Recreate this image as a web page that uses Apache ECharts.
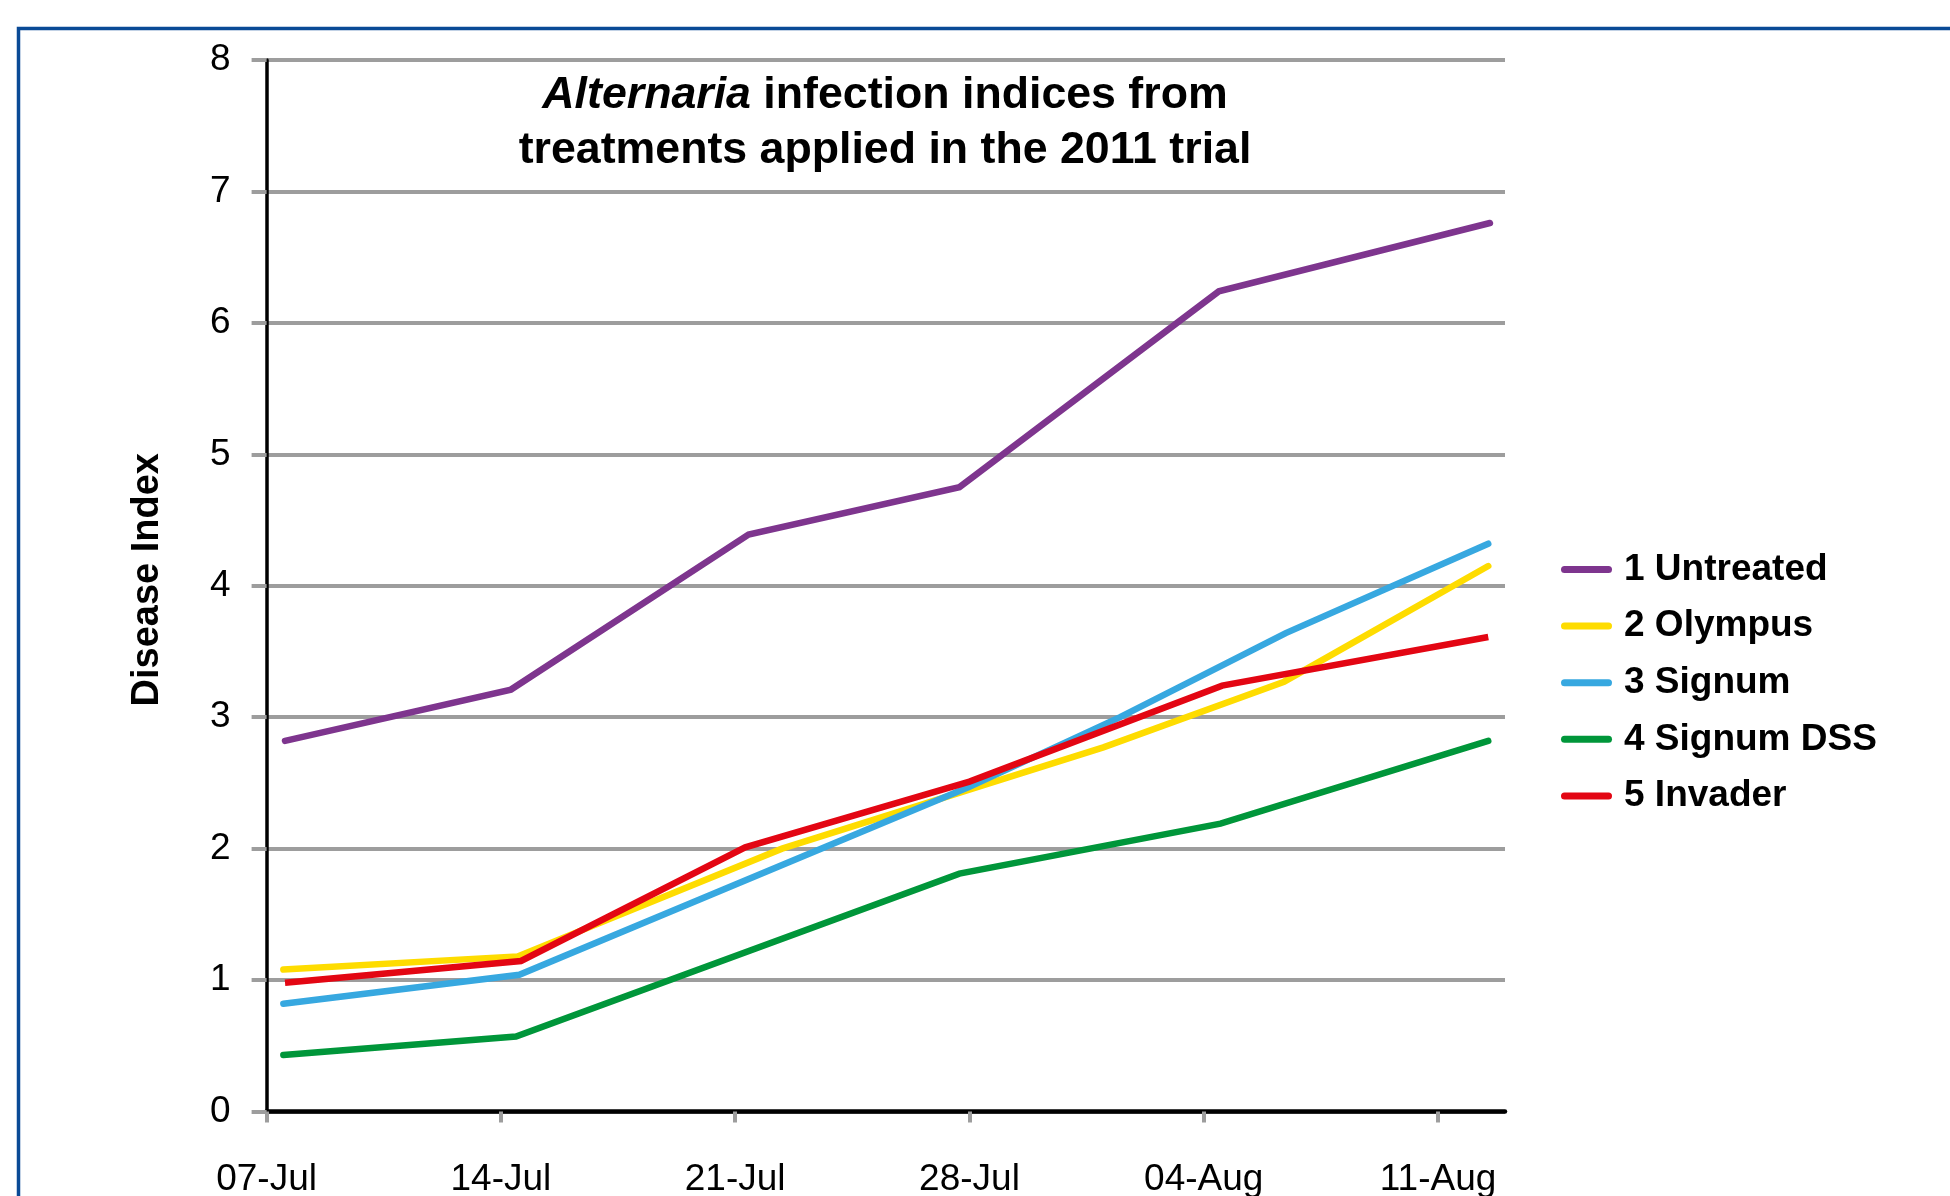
<!DOCTYPE html>
<html>
<head>
<meta charset="utf-8">
<script src="https://cdn.jsdelivr.net/npm/echarts@6/dist/echarts.min.js"></script>
<style>
html,body{margin:0;padding:0;background:#fff;}
#chart{width:1950px;height:1196px;}
</style>
</head>
<body>
<div id="chart"></div>
<script>
// ---- data ----
const tickLabels = ['07-Jul', '14-Jul', '21-Jul', '28-Jul', '04-Aug', '11-Aug'];
const tickDays = [0, 7, 14, 21, 28, 35];
const seriesNames = ['1 Untreated', '2 Olympus', '3 Signum', '4 Signum DSS', '5 Invader'];
const yTicks = [0, 1, 2, 3, 4, 5, 6, 7, 8];

// days after 07-Jul, disease index
const untreatedDays   = [0.55, 7.3, 14.4, 20.7, 28.45, 36.55];
const untreatedValues = [2.82, 3.21, 4.39, 4.75, 6.24, 6.76];

const olympusDays   = [0.5, 7.5, 15.4, 25.0, 30.4, 36.5];
const olympusValues = [1.08, 1.18, 2.00, 2.77, 3.27, 4.15];

const signumDays   = [0.5, 7.55, 21.0, 25.5, 30.45, 36.5];
const signumValues = [0.82, 1.04, 2.47, 3.00, 3.64, 4.32];

const signumDssDays   = [0.5, 7.45, 20.7, 28.5, 36.5];
const signumDssValues = [0.43, 0.57, 1.81, 2.19, 2.82];

const invaderDays   = [0.55, 7.6, 14.3, 21.0, 28.55, 36.5];
const invaderValues = [0.98, 1.145, 2.01, 2.51, 3.24, 3.61];

const colors = ['#7e358e', '#fedc00', '#37a8e0', '#00963a', '#e30613'];

function pairs(xs, ys) { return xs.map((x, i) => [x, ys[i]]); }
const seriesData = [
  pairs(untreatedDays, untreatedValues),
  pairs(olympusDays, olympusValues),
  pairs(signumDays, signumValues),
  pairs(signumDssDays, signumDssValues),
  pairs(invaderDays, invaderValues)
];

const FONT = '"Liberation Sans", Arial, Helvetica, sans-serif';
const capsule = 'path://M3.5,0 L47.5,0 A3.5,3.5 0 0 1 47.5,7 L3.5,7 A3.5,3.5 0 0 1 3.5,0 Z';

const chart = echarts.init(document.getElementById('chart'), null, {renderer: 'canvas'});
chart.setOption({
  backgroundColor: '#ffffff',
  animation: false,
  textStyle: {fontFamily: FONT},
  title: {
    text: '{it|Alternaria} infection indices from\ntreatments applied in the 2011 trial',
    left: 885,
    top: 68,
    padding: 0,
    textAlign: 'center',
    textStyle: {
      fontFamily: FONT, fontSize: 44.7, fontWeight: 'bold', color: '#000',
      lineHeight: 55, align: 'center',
      rich: {
        it: {fontFamily: FONT, fontSize: 44.7, fontWeight: 'bold', fontStyle: 'italic', color: '#000', lineHeight: 55}
      }
    }
  },
  legend: {
    orient: 'vertical',
    left: 1556,
    top: 546,
    itemWidth: 51,
    itemHeight: 7,
    itemGap: 19.6,
    icon: capsule,
    data: seriesNames.map((n, i) => ({name: n, icon: capsule, itemStyle: {color: colors[i]}})),
    textStyle: {
      fontFamily: FONT, fontSize: 37, fontWeight: 'bold', color: '#000',
      lineHeight: 37, padding: [0, 0, 0, 7]
    }
  },
  grid: {left: 266.6, top: 60, right: 445, bottom: 84.5, containLabel: false, outerBoundsMode: 'none'},
  xAxis: {
    type: 'value',
    min: 0, max: 37, interval: 7,
    axisLine: {show: true, lineStyle: {color: '#000', width: 4.5}},
    axisTick: {show: true, length: 11, customValues: tickDays, lineStyle: {color: '#9d9d9d', width: 4}},
    axisLabel: {
      show: true, margin: 50, fontSize: 37, color: '#000', fontFamily: FONT,
      customValues: tickDays,
      formatter: v => { const i = tickDays.indexOf(v); return i >= 0 ? tickLabels[i] : ''; }
    },
    splitLine: {show: false}
  },
  yAxis: {
    type: 'value',
    min: 0, max: 8, interval: 1,
    name: 'Disease Index',
    nameLocation: 'middle',
    nameRotate: 90,
    nameGap: 100,
    nameTextStyle: {fontFamily: FONT, fontSize: 38, fontWeight: 'bold', color: '#000', padding: [0, 0, 0, 12]},
    axisLine: {show: true, onZero: false, lineStyle: {color: '#000', width: 3.5}},
    axisTick: {show: true, length: 15, lineStyle: {color: '#9d9d9d', width: 4}},
    axisLabel: {
      show: true, margin: 36, fontSize: 37, color: '#000', fontFamily: FONT,
      formatter: v => (yTicks.indexOf(v) >= 0 ? String(v) : '')
    },
    splitLine: {show: true, lineStyle: {color: '#9d9d9d', width: 4}}
  },
  graphic: [{
    type: 'rect',
    z: -1,
    silent: true,
    shape: {x: 18.5, y: 28.5, width: 3000, height: 3000},
    style: {fill: 'none', stroke: '#0a4a96', lineWidth: 3.5}
  }],
  series: seriesNames.map((n, i) => ({
    name: n,
    type: 'line',
    data: seriesData[i],
    showSymbol: false,
    symbol: 'none',
    smooth: false,
    color: colors[i],
    lineStyle: {color: colors[i], width: 6.5, cap: i === 4 ? 'butt' : 'round', join: 'miter'},
    z: 3 + i
  }))
});
</script>
</body>
</html>
